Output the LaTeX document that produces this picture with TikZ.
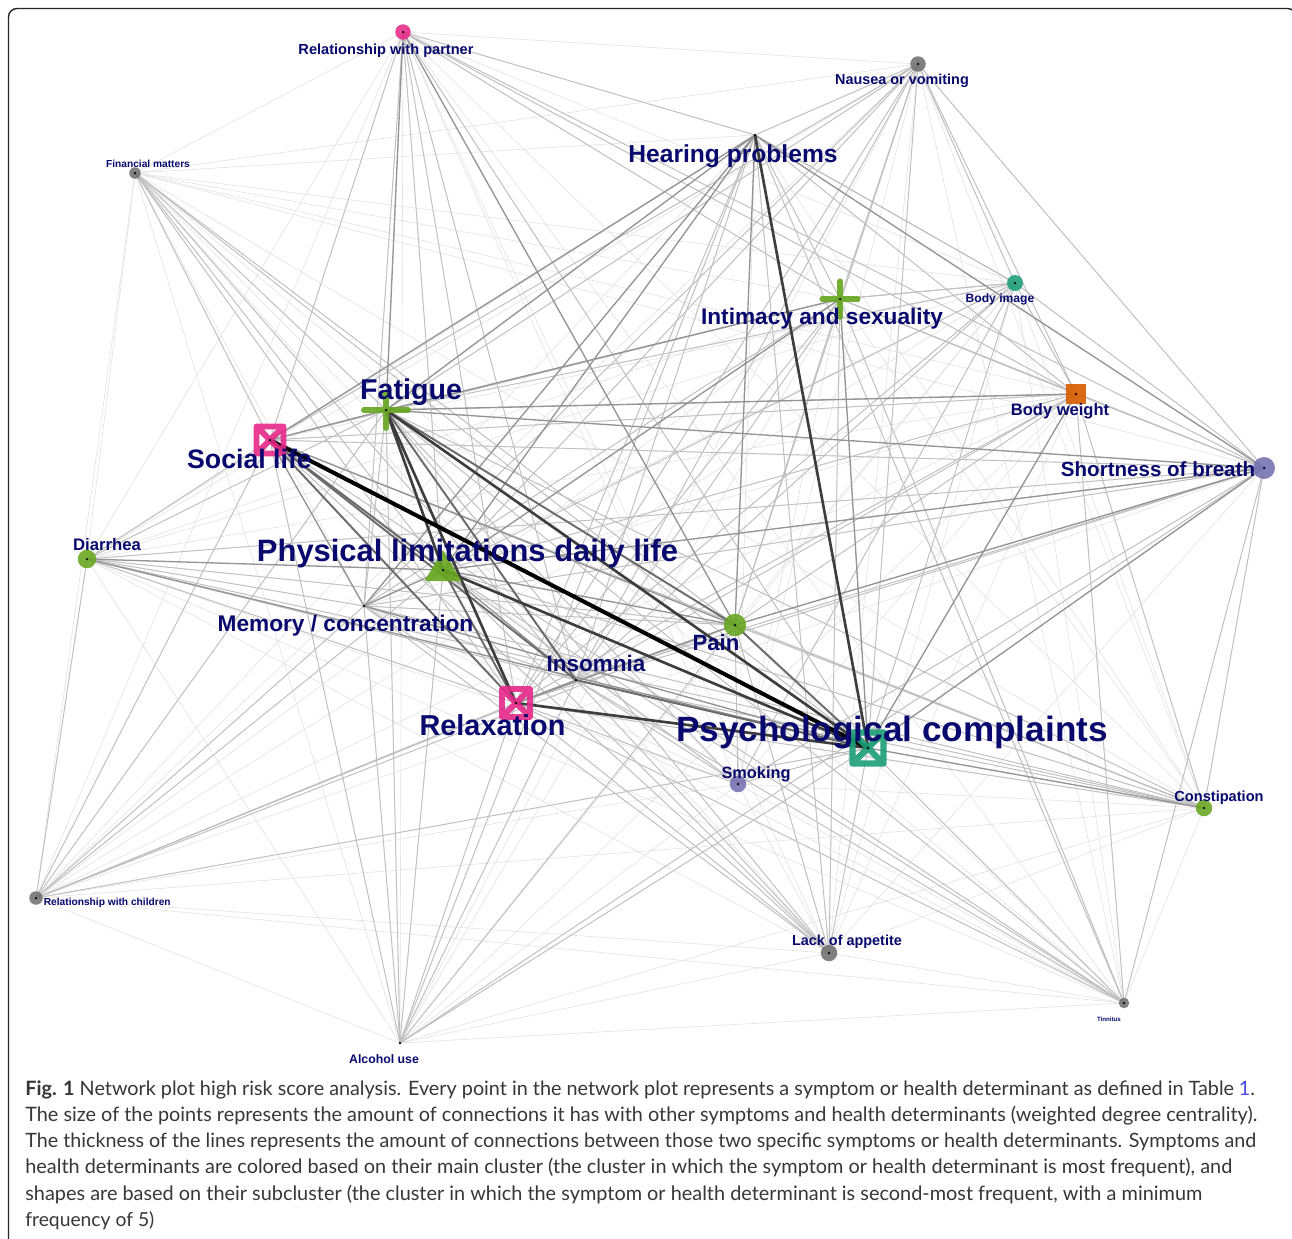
\documentclass[tikz,border=0pt]{standalone}
\usepackage{fontspec}
\usepackage{graphicx}
\newfontfamily\labfont{Liberation Sans}
\newfontfamily\capfont{Lato}
\definecolor{labcol}{RGB}{8,8,110}
\definecolor{cMag}{HTML}{E7298A}
\definecolor{cTeal}{HTML}{1B9E77}
\definecolor{cGreen}{HTML}{66A61E}
\definecolor{cOrange}{HTML}{D95F02}
\definecolor{cPurple}{HTML}{7570B3}
\definecolor{cGrey}{HTML}{707070}
\definecolor{capcol}{RGB}{55,55,55}
\definecolor{linkblue}{RGB}{70,70,230}
\newcommand\lfs[1]{\labfont\bfseries\fontsize{#1}{#1}\selectfont}
\newcommand\capline[2]{\resizebox{#1}{!}{\capfont\fontsize{11.5}{12}\selectfont #2}}
\begin{document}
\begin{tikzpicture}[x=0.02cm,y=-0.02cm,
  e0/.style={draw=black!11,line width=0.35pt},
  e1/.style={draw=black!25,line width=0.5pt},
  e2/.style={draw=black!42,line width=0.75pt},
  e3/.style={draw=black!58,line width=1.1pt},
  e4/.style={draw=black!76,line width=1.5pt},
  e5/.style={draw=black,line width=2.3pt},
  mkc/.style={circle,inner sep=0,draw=none,fill opacity=0.88},
  lab/.style={text=labcol,inner sep=0,anchor=mid},
  capt/.style={anchor=base west,inner sep=0,text=capcol},
  frame/.style={draw=black!85,line width=0.8pt,rounded corners=0.17cm}]
\useasboundingbox (0,0) rectangle (1292,1238);
\clip (0,0) rectangle (1292,1238);
\fill[white] (0,0) rectangle (1292,1238);
\draw[frame] (8.5,1246) -- (8.5,8.5) -- (1296,8.5) -- (1296,1246);

% node positions
\coordinate (RP) at (403,32);
\coordinate (FM) at (135,173);
\coordinate (HP) at (755,135);
\coordinate (NV) at (918,64);
\coordinate (BI) at (1015,283);
\coordinate (IS) at (840,299);
\coordinate (FA) at (386,410);
\coordinate (SL) at (270,440);
\coordinate (BW) at (1076,394);
\coordinate (SB) at (1264,468);
\coordinate (DI) at (87,559);
\coordinate (PL) at (443,570);
\coordinate (MC) at (364,606);
\coordinate (PA) at (735,625);
\coordinate (IN) at (576,680);
\coordinate (RX) at (516,703);
\coordinate (PC) at (868,748);
\coordinate (SM) at (738,784);
\coordinate (CO) at (1204,808);
\coordinate (RC) at (36,898);
\coordinate (LA) at (829,953);
\coordinate (TI) at (1124,1003);
\coordinate (AU) at (400,1043);

% faint background edges between all pairs
\foreach \a [count=\i] in {RP,FM,HP,NV,BI,IS,FA,SL,BW,SB,DI,PL,MC,PA,IN,RX,PC,SM,CO,RC,LA,TI,AU}{
  \foreach \b [count=\j] in {RP,FM,HP,NV,BI,IS,FA,SL,BW,SB,DI,PL,MC,PA,IN,RX,PC,SM,CO,RC,LA,TI,AU}{
    \ifnum\j>\i \draw[e0] (\a) -- (\b);\fi}}

% light edges
\foreach \a/\b in {RP/SL,RP/PL,RP/RX,RP/PC,RP/HP,RP/IN,RP/MC,RP/IS,RP/BW,RP/SB,
  FM/PL,FM/FA,FM/RX,FM/PC,FM/IN,FM/PA,FM/SL,
  NV/PL,NV/FA,NV/PC,NV/SL,NV/IS,NV/PA,NV/MC,NV/RX,NV/SB,NV/BW,NV/BI,NV/IN,
  BI/PC,BI/PL,BI/FA,BI/IS,BI/HP,BI/BW,BI/SB,BI/RX,BI/IN,BI/SM,
  IS/SB,IS/BW,IS/BI,IS/PA,IS/RX,IS/SL,IS/MC,IS/IN,IS/HP,
  HP/RX,HP/IN,HP/BW,HP/BI,HP/NV,
  BW/FA,BW/SL,BW/PL,BW/PA,BW/SB,BW/RX,BW/IN,
  SB/SL,SB/RX,SB/IN,SB/MC,SB/CO,SB/SM,
  DI/SL,DI/FA,DI/PA,DI/RX,DI/IN,DI/MC,DI/SB,DI/CO,DI/RC,
  MC/PA,MC/IN,MC/RX,MC/FA,PA/IN,PA/RX,PA/SM,PA/CO,
  SM/PC,SM/RX,SM/IN,SM/PL,SM/FA,
  CO/RX,CO/IN,CO/PL,CO/FA,CO/PA,CO/SL,CO/MC,CO/BW,
  RC/PL,RC/FA,RC/RX,RC/PC,RC/SL,RC/IN,RC/PA,RC/MC,
  LA/PC,LA/RX,LA/FA,LA/PL,LA/SL,LA/IN,LA/PA,LA/MC,LA/HP,LA/IS,
  AU/PL,AU/FA,AU/PC,AU/RX,AU/IN,AU/SL,AU/PA,AU/MC,AU/HP,AU/SB,
  TI/PC,TI/FA,TI/PL,TI/SL,TI/RX,TI/IN,TI/HP,TI/IS,TI/SB,TI/BW}
  \draw[e1] (\a) -- (\b);

% medium edges
\foreach \a/\b in {IS/FA,IS/PL,IS/PC,HP/FA,HP/SL,HP/PL,HP/MC,HP/PA,HP/SB,
  SB/PC,BW/PC,PL/SB,PA/SB,FA/SB,FA/BW,PL/PA,MC/PC,RX/IN,PL/IN,SL/FA,
  SL/MC,PL/MC,RX/PA,DI/PC,DI/PL,RP/PA,RP/FA,CO/PC,SL/PA}
  \draw[e2] (\a) -- (\b);

% strong edges
\foreach \a/\b in {FA/PA,PA/PC,SL/RX,PL/RX,SL/PL,IN/PC,FA/IN,SL/IN}
  \draw[e3] (\a) -- (\b);
\foreach \a/\b in {HP/PC,RX/PC,PL/PC,FA/PC,FA/PL,FA/RX}
  \draw[e4] (\a) -- (\b);
\draw[e5] (SL) -- (PC);

% markers
\node[mkc,fill=cMag,minimum size=0.31cm] (RPm) at (RP) {};
\node[mkc,fill=cGrey,minimum size=0.23cm] (FMm) at (FM) {};
\node[mkc,fill=cGrey,minimum size=0.31cm] (NVm) at (NV) {};
\node[mkc,fill=cTeal,minimum size=0.32cm] (BIm) at (BI) {};
\node[mkc,fill=cPurple,minimum size=0.44cm] (SBm) at (SB) {};
\node[mkc,fill=cGreen,minimum size=0.37cm] (DIm) at (DI) {};
\node[mkc,fill=cGreen,minimum size=0.45cm] (PAm) at (PA) {};
\node[mkc,fill=cPurple,minimum size=0.33cm] (SMm) at (SM) {};
\node[mkc,fill=cGreen,minimum size=0.33cm] (COm) at (CO) {};
\node[mkc,fill=cGrey,minimum size=0.27cm] (RCm) at (RC) {};
\node[mkc,fill=cGrey,minimum size=0.33cm] (LAm) at (LA) {};
\node[mkc,fill=cGrey,minimum size=0.21cm] (TIm) at (TI) {};
\node[fill=cOrange,fill opacity=0.92,inner sep=0,minimum size=0.40cm] (BWm) at (BW) {};
% plus markers
\draw[cGreen,line width=3.4pt,opacity=0.9,line cap=round] (FA) ++(-22,0) -- ++(44,0) (FA) ++(0,-17) -- ++(0,35);
\draw[cGreen,line width=2.9pt,opacity=0.9,line cap=round] (IS) ++(-18,0) -- ++(36,0) (IS) ++(0,-18) -- ++(0,36);
% triangle marker
\fill[cGreen,opacity=0.9] (PL) ++(0,-20) -- ++(-18.5,31) -- ++(37,0) -- cycle;
% square with cross markers
\draw[cMag,line width=3.3pt,opacity=0.9,line join=round]
  (SL) ++(-13.5,-13.5) rectangle ++(27,27)
  (SL) ++(-13.5,-13.5) -- ++(27,27) (SL) ++(13.5,-13.5) -- ++(-27,27);
\draw[cMag,line width=3.3pt,opacity=0.9,line join=round]
  (RX) ++(-14,-14) rectangle ++(28,28)
  (RX) ++(-14,-14) -- ++(28,28) (RX) ++(14,-14) -- ++(-28,28);
\draw[cTeal,line width=3.6pt,opacity=0.9,line join=round]
  (PC) ++(-15.5,-15.5) rectangle ++(31,31)
  (PC) ++(-15.5,-15.5) -- ++(31,31) (PC) ++(15.5,-15.5) -- ++(-31,31);
% centre dots
\foreach \n in {RP,FM,HP,NV,BI,IS,FA,SL,BW,SB,DI,PL,MC,PA,IN,RX,PC,SM,CO,RC,LA,TI,AU}
  \fill[black] (\n) circle[radius=0.025cm];

% labels
\node[lab,font=\lfs{8.3}] (RPl) at (386,51) {Relationship with partner};
\node[lab,font=\lfs{5.8}] (FMl) at (148,163.3) {Financial matters};
\node[lab,font=\lfs{14}] (HPl) at (733,158.5) {Hearing problems};
\node[lab,font=\lfs{8.2}] (NVl) at (902,81.2) {Nausea or vomiting};
\node[lab,font=\lfs{6.9}] (BIl) at (1000,298.7) {Body image};
\node[lab,font=\lfs{12.9}] (ISl) at (822,321) {Intimacy and sexuality};
\node[lab,font=\lfs{16.3}] (FAl) at (411,395.4) {Fatigue};
\node[lab,font=\lfs{15.2}] (SLl) at (249.5,464.9) {Social life};
\node[lab,font=\lfs{9.4}] (BWl) at (1060,411.7) {Body weight};
\node[lab,font=\lfs{11.7}] (SBl) at (1158,472.6) {Shortness of breath};
\node[lab,font=\lfs{9.5}] (DIl) at (107,546.7) {Diarrhea};
\node[lab,font=\lfs{17.6}] (PLl) at (467.5,557.9) {Physical limitations daily life};
\node[lab,font=\lfs{12.9}] (MCl) at (345.5,628) {Memory / concentration};
\node[lab,font=\lfs{12.6}] (PAl) at (716,646.9) {Pain};
\node[lab,font=\lfs{12.8}] (INl) at (596,668) {Insomnia};
\node[lab,font=\lfs{16.4}] (RXl) at (492.5,731.4) {Relaxation};
\node[lab,font=\lfs{20}] (PCl) at (892,737.8) {Psychological complaints};
\node[lab,font=\lfs{9.3}] (SMl) at (756,774.6) {Smoking};
\node[lab,font=\lfs{8.3}] (COl) at (1219,798.2) {Constipation};
\node[lab,font=\lfs{5.8},anchor=mid west] (RCl) at (43.5,901.3) {Relationship with children};
\node[lab,font=\lfs{8.2}] (LAl) at (847,942.2) {Lack of appetite};
\node[lab,font=\lfs{3.5}] (TIl) at (1109,1017.4) {Tinnitus};
\node[lab,font=\lfs{7}] (AUl) at (384,1059.7) {Alcohol use};

% caption
\node[capt] (c1) at (25,1095) {\capline{24.6cm}{\textbf{Fig. 1} Network plot high risk score analysis. Every point in the network plot represents a symptom or health determinant as defined in Table {\color{linkblue}1}.}};
\node[capt] (c2) at (25,1121.3) {\capline{24.64cm}{The size of the points represents the amount of connections it has with other symptoms and health determinants (weighted degree centrality).}};
\node[capt] (c3) at (25,1147.6) {\capline{24.62cm}{The thickness of the lines represents the amount of connections between those two specific symptoms or health determinants. Symptoms and}};
\node[capt] (c4) at (25,1173.9) {\capline{24.14cm}{health determinants are colored based on their main cluster (the cluster in which the symptom or health determinant is most frequent), and}};
\node[capt] (c5) at (25,1200.2) {\capline{23.54cm}{shapes are based on their subcluster (the cluster in which the symptom or health determinant is second-most frequent, with a minimum}};
\node[capt] (c6) at (25,1226.5) {\capline{2.58cm}{frequency of 5)}};
\end{tikzpicture}
\end{document}
